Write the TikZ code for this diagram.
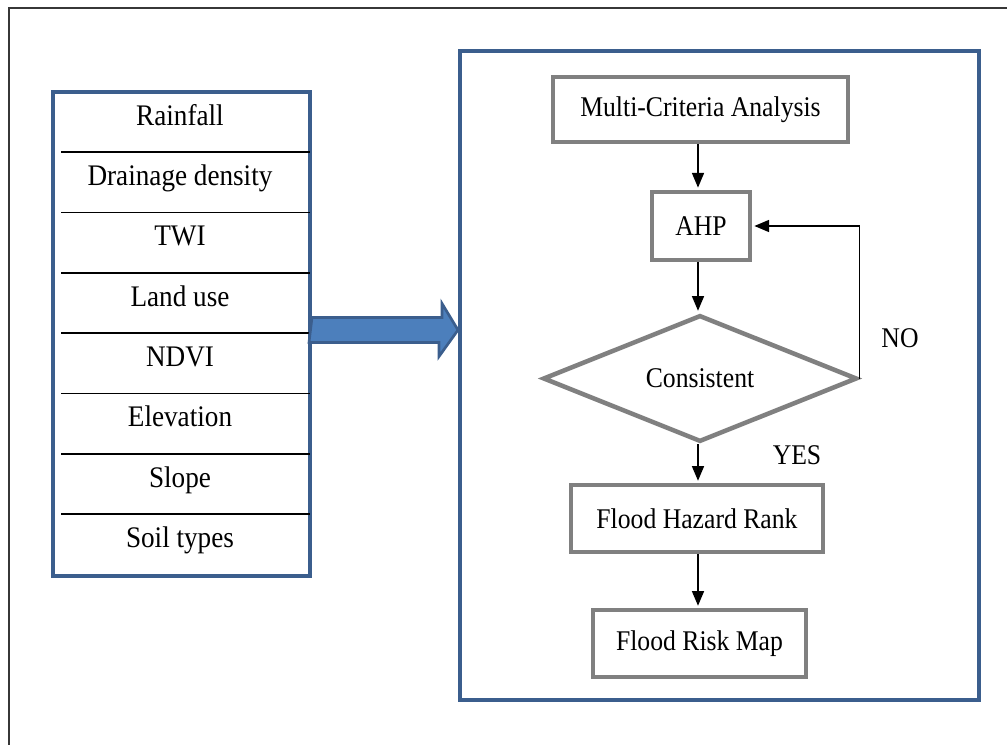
\documentclass[tikz,border=0pt]{standalone}
\usepackage{fontspec}
\setmainfont{Liberation Serif}
\newfontfamily\flowfont{Liberation Serif}[FakeStretch=0.9]
\newfontfamily\listfont{Liberation Serif}[FakeStretch=0.91]
\usetikzlibrary{arrows.meta,shapes.geometric,fit}
\definecolor{framegray}{RGB}{55,55,55}
\definecolor{boxblue}{RGB}{59,94,141}
\definecolor{arrowblue}{RGB}{76,127,188}
\definecolor{boxgray}{RGB}{128,128,128}
\begin{document}
\begin{tikzpicture}[x=0.75pt,y=-0.75pt,
    factor/.style={anchor=base,font=\listfont\fontsize{22.4}{26}\selectfont},
    sepline/.style={line width=1.3pt,black},
    bluebox/.style={draw=boxblue,line width=3pt,inner sep=0pt},
    procbox/.style={draw=boxgray,line width=3.4pt,fill=white,inner sep=0pt,
        font=\flowfont\fontsize{21.4}{25}\selectfont},
    decision/.style={procbox,diamond,aspect=2.5},
    flowarr/.style={line width=1.1pt,-{Triangle[width=9pt,length=11pt]},shorten >=1.6pt},
    answer/.style={font=\flowfont\fontsize{21.4}{25}\selectfont}]
    \useasboundingbox (0,0) rectangle (1007,745);
    \clip (0,0) rectangle (1007,745);

    % outer frame
    \draw[framegray,line width=1.3pt] (9,8) rectangle (1040,780);

    % factor list
    \node[bluebox,fit={(53,92) (310,576)}] (factors) {};
    \foreach \lbl [count=\i] in {Rainfall,Drainage density,TWI,Land use,NDVI,Elevation,Slope,Soil types}
        \node[factor] (f\i) at (180,92+60.3*\i-27) {\lbl};
    \foreach \i in {1,...,7}
        \draw[sepline] (61,92+60.3*\i) -- (310,92+60.3*\i);

    % model frame
    \node[bluebox,fit={(460,51) (979,700)}] (model) {};

    % block arrow
    \coordinate (atail) at (factors.east |- 0,330);
    \coordinate (atip) at (model.west |- 0,330);
    \draw[boxblue,fill=arrowblue,line width=2pt,line join=miter]
        (atail) ++(0,-12.5) -- ++(130,0) -- ++(0,-14) -- (atip)
        -- ++(-19,26.5) -- ++(0,-14) -- ++(-130,0) -- cycle;

    % flow chart
    \node[procbox,minimum width=221pt,minimum height=49pt] (mca) at (700.5,109.5) {Multi-Criteria Analysis};
    \node[procbox,minimum width=73.5pt,minimum height=51pt] (ahp) at (701,226) {AHP};
    \node[decision,minimum width=235.5pt,minimum height=95pt] (check) at (700,378.5) {Consistent};
    \node[procbox,minimum width=189pt,minimum height=50pt] (hazard) at (697,518.5) {Flood Hazard Rank};
    \node[procbox,minimum width=160pt,minimum height=50pt] (riskmap) at (699.5,643.5) {Flood Risk Map};

    \draw[flowarr] (mca.south -| 698,0) -- (ahp.north -| 698,0);
    \draw[flowarr] (ahp.south -| 698,0) -- (check.north -| 698,0);
    \draw[flowarr] (check.south -| 698,0) -- (hazard.north -| 698,0);
    \draw[flowarr] (hazard.south -| 698,0) -- (riskmap.north -| 698,0);
    \draw[flowarr] (check.east) |- (ahp.east);

    \node[answer] (no) at (900,338) {NO};
    \node[answer] (yes) at (797,455) {YES};
\end{tikzpicture}
\end{document}
